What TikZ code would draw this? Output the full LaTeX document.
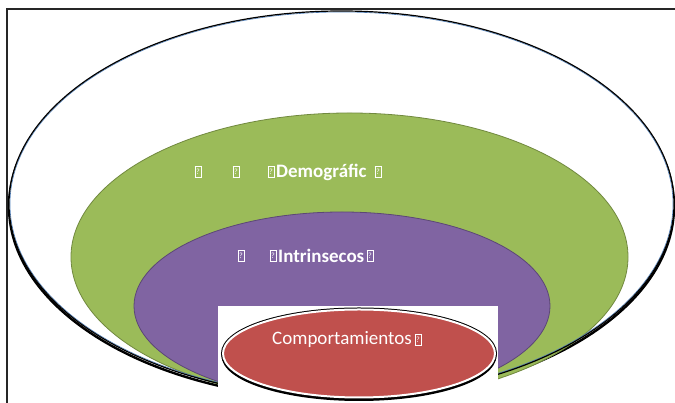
\documentclass[tikz,border=0pt]{standalone}
\usepackage{fontspec}
\setmainfont{Carlito}
\definecolor{grn}{HTML}{9BBB59}
\definecolor{grnline}{HTML}{71893F}
\definecolor{prp}{HTML}{8064A2}
\definecolor{prpline}{HTML}{5C4776}
\definecolor{rd}{HTML}{C0504D}
\definecolor{blu}{HTML}{4F81BD}
\newcommand\tofu{{\setlength\fboxsep{0.4pt}\setlength\fboxrule{0.6pt}\fbox{\makebox[5pt]{\fontsize{8}{8}\selectfont ?}\rule[-1.5pt]{0pt}{9pt}}}}
\tikzset{
  lbl/.style={text=white, inner sep=0pt, anchor=west, font=\fontsize{19}{21}\selectfont},
  tf/.style={text=white, inner sep=0pt},
}
\begin{document}
\begin{tikzpicture}[x=1pt,y=1pt]
\useasboundingbox (0,0) rectangle (675,403);
\fill[white] (0,0) rectangle (675,403);
% frame lines
\draw[line width=1.2pt, black!85] (7,0) -- (7,394) -- (675,394);
% outer ellipse shadow + fill
\draw[black, line width=2.4pt] (341.5,196.6) ellipse [x radius=332.5, y radius=193];
\fill[white] (341.5,199) ellipse [x radius=332.5, y radius=193];
% green
\draw[grnline, fill=grn, line width=0.8pt] (349.5,146) ellipse [x radius=278.5, y radius=144];
% purple
\draw[prpline, fill=prp, line width=0.8pt] (342,97) ellipse [x radius=208, y radius=94];
% outer stroke
\draw[blu, line width=0.6pt] (341.5,199) ellipse [x radius=331.5, y radius=192];
\draw[black, line width=1.2pt] (341.5,199) ellipse [x radius=332.5, y radius=193];
% white rectangle
\fill[white] (218,0) rectangle (498,97);
% red ellipse
\draw[black, line width=3pt] (359,47.5) ellipse [x radius=136, y radius=44];
\draw[black, line width=4pt] (359,49.5) ellipse [x radius=136, y radius=44];
\draw[white, line width=2pt, fill=rd] (359,49.5) ellipse [x radius=136, y radius=44];
% texts
\node[tf] (t1) at (198,231) {\tofu};
\node[tf] (t2) at (236,231) {\tofu};
\node[tf] (t3) at (271,231) {\tofu};
\node[lbl] (dem) at (276,231) {\bfseries Demográfic};
\node[tf] (t4) at (378,231) {\tofu};
\node[tf] (t5) at (241,147) {\tofu};
\node[tf] (t6) at (273,147) {\tofu};
\node[lbl] (intr) at (278,147) {\bfseries Intrinsecos};
\node[tf] (t7) at (370,147) {\tofu};
\node[lbl] (comp) at (272,63) {Comportamientos};
\node[tf] (t8) at (418,63) {\tofu};
\end{tikzpicture}
\end{document}
